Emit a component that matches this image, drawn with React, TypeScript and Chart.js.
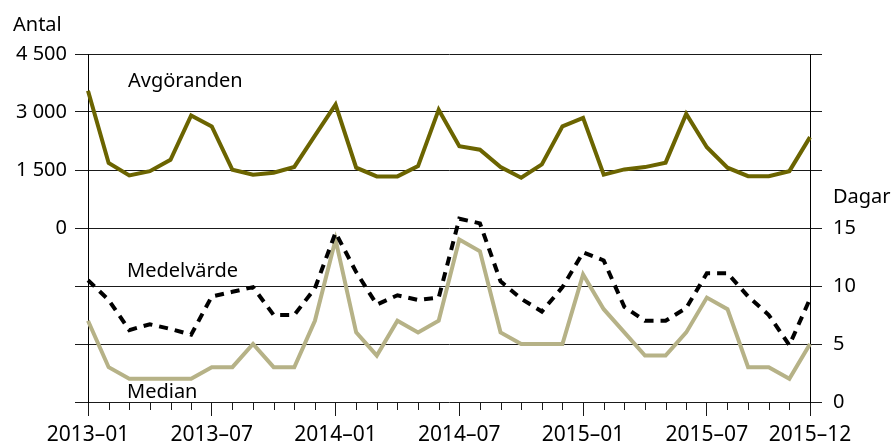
import React, { useEffect, useRef } from 'react';
import { Chart, registerables } from 'chart.js';

Chart.register(...registerables);

const months = [
  '2013–01', '2013–02', '2013–03', '2013–04', '2013–05', '2013–06',
  '2013–07', '2013–08', '2013–09', '2013–10', '2013–11', '2013–12',
  '2014–01', '2014–02', '2014–03', '2014–04', '2014–05', '2014–06',
  '2014–07', '2014–08', '2014–09', '2014–10', '2014–11', '2014–12',
  '2015–01', '2015–02', '2015–03', '2015–04', '2015–05', '2015–06',
  '2015–07', '2015–08', '2015–09', '2015–10', '2015–11', '2015–12',
];

const shownMonths = ['2013–01', '2013–07', '2014–01', '2014–07', '2015–01', '2015–07', '2015–12'];

const avgoranden = [
  3550, 1680, 1360, 1470, 1765, 2910, 2625, 1505, 1380, 1430, 1580, 2390,
  3190, 1560, 1335, 1335, 1600, 3060, 2115, 2025, 1575, 1300, 1645, 2630,
  2850, 1380, 1515, 1575, 1690, 2950, 2090, 1560, 1340, 1340, 1470, 2350,
];

const medelvarde = [
  10.5, 8.8, 6.2, 6.7, 6.3, 5.8, 9.1, 9.5, 9.9, 7.5, 7.5, 9.8,
  14.6, 11.2, 8.4, 9.2, 8.8, 9.0, 15.8, 15.4, 10.4, 8.9, 7.8, 9.9,
  12.9, 12.2, 8.2, 7.0, 7.0, 8.1, 11.1, 11.1, 9.1, 7.5, 4.9, 8.9,
];

const median = [
  7, 3, 2, 2, 2, 2, 3, 3, 5, 3, 3, 7,
  14, 6, 4, 7, 6, 7, 14, 13, 6, 5, 5, 5,
  11, 8, 6, 4, 4, 6, 9, 8, 3, 3, 2, 5,
];

const leftTicks = [0, 1500, 3000, 4500];
const rightTicks = [0, 5, 10, 15];

const FONT = '"Noto Sans", sans-serif';
const OLIVE = '#6b6400';
const KHAKI = '#b6b287';
const GRID = '#1a1a1a';

function fmt(v: number): string {
  if (v >= 1000) {
    return `${Math.floor(v / 1000)} ${String(v % 1000).padStart(3, '0')}`;
  }
  return String(v);
}

export default function App() {
  const ref = useRef<HTMLCanvasElement>(null);

  useEffect(() => {
    const canvas = ref.current;
    if (!canvas) return;

    const textPlugin = {
      id: 'extraTexts',
      afterDraw(chart: any) {
        const { ctx, chartArea, scales } = chart;
        const x = scales.x;
        ctx.save();
        ctx.strokeStyle = GRID;
        ctx.lineWidth = 1;
        months.forEach((m, i) => {
          if (shownMonths.includes(m)) return;
          const px = Math.round(x.getPixelForValue(i)) + 0.5;
          ctx.beginPath();
          ctx.moveTo(px, chartArea.bottom);
          ctx.lineTo(px, chartArea.bottom + 8);
          ctx.stroke();
        });
        ctx.fillStyle = '#000';
        ctx.font = `20px ${FONT}`;
        ctx.textAlign = 'left';
        ctx.textBaseline = 'alphabetic';
        ctx.fillText('Antal', 13, 31);
        ctx.fillText('Dagar', chartArea.right + 23, 203);
        ctx.fillText('Avgöranden', chartArea.left + 40, 87);
        ctx.fillText('Medelvärde', chartArea.left + 39, 277);
        ctx.fillText('Median', chartArea.left + 39, 398);
        ctx.restore();
      },
    };

    const chart = new Chart(canvas, {
      type: 'line',
      data: {
        labels: months,
        datasets: [
          {
            label: 'Avgöranden',
            data: avgoranden,
            yAxisID: 'yL',
            borderColor: OLIVE,
            borderWidth: 4,
            pointRadius: 0,
            tension: 0,
            fill: false,
            borderJoinStyle: 'miter',
            order: 0,
          },
          {
            label: 'Medelvärde',
            data: medelvarde,
            yAxisID: 'yR',
            borderColor: '#000',
            borderWidth: 4,
            borderDash: [9, 7],
            pointRadius: 0,
            tension: 0,
            fill: false,
            borderJoinStyle: 'miter',
            order: 1,
          },
          {
            label: 'Median',
            data: median,
            yAxisID: 'yR',
            borderColor: KHAKI,
            borderWidth: 4,
            pointRadius: 0,
            tension: 0,
            fill: false,
            borderJoinStyle: 'miter',
            order: 2,
          },
        ],
      },
      options: {
        responsive: false,
        animation: false,
        devicePixelRatio: 1,
        layout: { padding: { top: 54, left: 0, right: 0, bottom: 0 } },
        plugins: {
          legend: { display: false },
          tooltip: { enabled: false },
        },
        scales: {
          x: {
            type: 'category',
            offset: false,
            grid: {
              display: true,
              drawOnChartArea: false,
              drawTicks: true,
              tickLength: 14,
              color: GRID,
              tickColor: (c: any) =>
                c.tick && shownMonths.includes(months[c.index]) ? GRID : 'rgba(0,0,0,0)',
            },
            border: { display: false },
            ticks: {
              autoSkip: false,
              maxRotation: 0,
              minRotation: 0,
              padding: 6,
              color: '#000',
              font: { family: FONT, size: 21 },
              callback: (_v: any, i: number) => (shownMonths.includes(months[i]) ? months[i] : ''),
            },
            afterFit: (s: any) => {
              s.height = 41;
            },
          },
          yL: {
            type: 'linear',
            position: 'left',
            min: -4500,
            max: 4500,
            ticks: {
              stepSize: 1500,
              padding: 8,
              color: '#000',
              font: { family: FONT, size: 20 },
              callback: (v: any) => (leftTicks.includes(Number(v)) ? fmt(Number(v)) : ''),
            },
            grid: { color: GRID, lineWidth: 1, tickLength: 13 },
            border: { display: true, color: '#000', width: 1 },
            afterFit: (s: any) => {
              s.width = 88;
            },
          },
          yR: {
            type: 'linear',
            position: 'right',
            min: 0,
            max: 30,
            ticks: {
              stepSize: 5,
              padding: 11,
              color: '#000',
              font: { family: FONT, size: 20 },
              callback: (v: any) => (rightTicks.includes(Number(v)) ? String(v) : ''),
            },
            grid: { drawOnChartArea: false, color: GRID, lineWidth: 1, tickLength: 12 },
            border: { display: true, color: '#000', width: 1 },
            afterFit: (s: any) => {
              s.width = 81;
            },
          },
        },
      },
      plugins: [textPlugin],
    } as any);

    return () => {
      chart.destroy();
    };
  }, []);

  return (
    <div style={{ position: 'absolute', left: 0, top: 0, width: 891, height: 443, background: '#fff' }}>
      <canvas ref={ref} width={891} height={443} style={{ display: 'block' }} />
    </div>
  );
}
